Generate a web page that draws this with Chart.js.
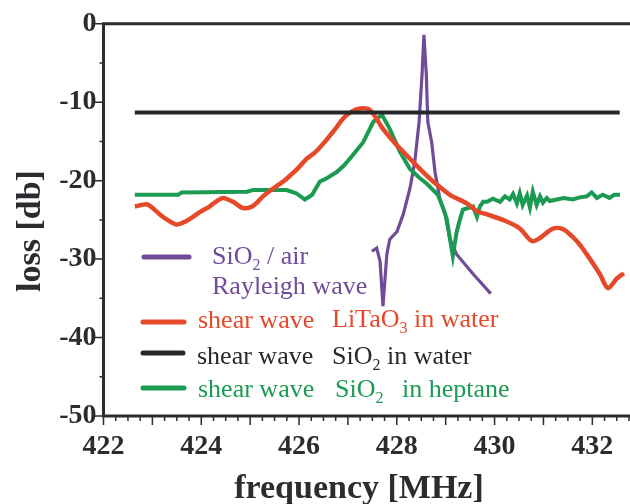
<!DOCTYPE html>
<html><head><meta charset="utf-8">
<script src="https://cdn.jsdelivr.net/npm/chart.js@4.4.0/dist/chart.umd.min.js"></script>
<style>html,body{margin:0;padding:0;background:#fff}#wrap{width:630px;height:504px;position:relative}</style>
</head><body><div id="wrap"><canvas id="c"></canvas></div>
<script>
// ---- data ----
const xTickLabels = [422, 424, 426, 428, 430, 432];
const yTickLabels = [0, -10, -20, -30, -40, -50];

const redFreq = [422.641,422.887,422.986,423.153,423.331,423.498,423.676,423.833,423.971,424.169,424.316,424.445,424.652,424.858,425.036,425.154,425.262,425.469,425.676,425.844,425.982,426.159,426.327,426.534,426.731,426.899,427.076,427.244,427.451,427.717,428.003,428.269,428.506,428.743,429.087,429.432,429.639,429.846,430.250,430.516,430.763,430.930,431.197,431.404,431.680,431.887,432.153,432.320,432.498,432.646];
const redLoss = [-23.3,-23.0,-23.4,-24.3,-25.1,-25.6,-25.2,-24.6,-24.0,-23.3,-22.6,-22.2,-22.7,-23.5,-23.3,-22.7,-22.0,-21.0,-20.1,-19.2,-18.4,-17.2,-16.4,-15.0,-13.5,-12.1,-11.2,-10.8,-11.0,-13.4,-15.5,-17.2,-18.7,-20.1,-21.8,-22.9,-23.9,-24.3,-25.2,-26.1,-27.7,-27.3,-26.1,-26.2,-27.7,-29.4,-31.9,-33.7,-32.5,-31.8];

const blackFreq = [422.64, 432.56];
const blackLoss = [-11.3, -11.3];

const greenFreq = [422.641,423.528,423.597,424.937,425.056,425.746,425.943,426.120,426.268,426.426,426.534,426.771,426.928,427.106,427.313,427.520,427.697,427.855,428.062,428.269,428.456,428.614,428.840,428.949,429.018,429.146,429.225,429.294,429.353,429.560,429.639,429.698,429.767,429.846,429.964,430.112,430.211,430.309,430.378,430.457,430.516,430.575,430.664,430.723,430.782,430.861,430.930,430.989,431.068,431.127,431.275,431.413,431.601,431.759,431.887,431.986,432.094,432.212,432.350,432.449,432.567];
const greenLoss = [-21.8,-21.8,-21.5,-21.4,-21.2,-21.2,-21.6,-22.4,-21.8,-20.1,-19.8,-18.9,-18.0,-16.7,-15.1,-12.5,-11.6,-13.4,-16.3,-18.5,-19.6,-20.4,-21.8,-23.5,-24.8,-29.6,-26.5,-24.9,-23.7,-23.3,-24.6,-23.3,-22.7,-22.7,-22.3,-22.7,-22.0,-22.4,-21.7,-22.9,-21.6,-23.1,-21.9,-23.4,-21.4,-23.1,-22.0,-22.8,-22.2,-22.6,-22.4,-22.2,-22.4,-22.1,-22.0,-21.5,-22.2,-21.8,-22.2,-21.8,-21.8];

const purpleFreq = [427.490,427.589,427.658,427.717,427.796,427.855,428.003,428.131,428.269,428.368,428.456,428.515,428.555,428.604,428.634,428.713,428.782,428.880,428.989,429.087,429.226,429.561,429.922];
const purpleLoss = [-29.0,-28.6,-30.3,-36.0,-29.4,-27.5,-26.5,-24.3,-21.0,-17.6,-12.5,-6.6,-1.4,-6.5,-12.5,-15.1,-18.9,-22.3,-24.3,-27.5,-29.4,-31.9,-34.4];

const COL = {purple:'#6f4b98', red:'#e6482a', green:'#1b9a52', black:'#25282b', axis:'#2a2d30'};

function pts(fx, ly){ return fx.map((f,i)=>({x:f, y:ly[i]})); }

const axesPlugin = {
  id:'axesPlugin',
  afterDatasetsDraw(chart){
    const ctx = chart.ctx, a = chart.chartArea;
    const xs = chart.scales.x, ys = chart.scales.y;
    ctx.save();
    ctx.strokeStyle = COL.axis; ctx.lineCap='butt';
    ctx.lineWidth = 3;
    ctx.beginPath();
    ctx.moveTo(a.left, a.top); ctx.lineTo(630, a.top);
    ctx.moveTo(a.left, a.top-1.5); ctx.lineTo(a.left, a.bottom+1.5);
    ctx.moveTo(a.left-1.5, a.bottom); ctx.lineTo(630, a.bottom);
    ctx.stroke();
    ctx.lineWidth = 1.5;
    ctx.beginPath();
    xs.ticks.forEach(t=>{
      const q = t.value*4;
      if (Math.abs(q-Math.round(q))>1e-6) return;
      const px = xs.getPixelForValue(t.value);
      const major = Math.abs(t.value-Math.round(t.value))<1e-6;
      ctx.moveTo(px, a.bottom); ctx.lineTo(px, a.bottom + (major?9:5));
    });
    ys.ticks.forEach(t=>{
      const py = ys.getPixelForValue(t.value);
      const major = t.value % 10 === 0;
      ctx.moveTo(a.left, py); ctx.lineTo(a.left - (major?9:4), py);
    });
    ctx.stroke();

    ctx.fillStyle = COL.axis;
    ctx.font = 'bold 34px "Liberation Serif"';
    ctx.textAlign='center'; ctx.textBaseline='alphabetic';
    ctx.fillText('frequency [MHz]', 359, 498);
    ctx.save();
    ctx.translate(40, 231); ctx.rotate(-Math.PI/2);
    ctx.fillText('loss [db]', 0, 0);
    ctx.restore();

    const legLine = (x1,x2,y,c)=>{ctx.strokeStyle=c; ctx.lineWidth=5; ctx.lineCap='round'; ctx.beginPath(); ctx.moveTo(x1,y); ctx.lineTo(x2,y); ctx.stroke();};
    const txt = (parts, x, y, c)=>{
      ctx.fillStyle=c; ctx.textAlign='left'; ctx.textBaseline='alphabetic';
      let cx = x;
      parts.forEach(p=>{
        if (p.sub){ ctx.font='16px "Liberation Serif"'; ctx.fillText(p.t, cx, y+6); cx += ctx.measureText(p.t).width; }
        else { ctx.font='26px "Liberation Serif"'; ctx.fillText(p.t, cx, y); cx += ctx.measureText(p.t).width; }
      });
    };
    legLine(144,189,257,COL.purple);
    txt([{t:'SiO'},{t:'2',sub:1},{t:' / air'}], 212, 264, COL.purple);
    txt([{t:'Rayleigh wave'}], 212, 294, COL.purple);
    legLine(143,184,322,COL.red);
    txt([{t:'shear wave'}], 198, 328, COL.red);
    txt([{t:'LiTaO'},{t:'3',sub:1},{t:' in water'}], 332, 327, COL.red);
    legLine(143,183,353,COL.black);
    txt([{t:'shear wave'}], 197, 364, COL.black);
    txt([{t:'SiO'},{t:'2',sub:1},{t:' in water'}], 332, 364, COL.black);
    legLine(143,184,388,COL.green);
    txt([{t:'shear wave'}], 198, 397, COL.green);
    txt([{t:'SiO'},{t:'2',sub:1}], 335, 397, COL.green);
    txt([{t:'in heptane'}], 402, 397, COL.green);
    ctx.restore();
  }
};

new Chart(document.getElementById('c'), {
  type:'scatter',
  data:{ datasets:[
    {data:pts(blackFreq,blackLoss), borderColor:COL.black, borderWidth:4, showLine:true, pointRadius:0},
    {data:pts(redFreq,redLoss), borderColor:COL.red, borderWidth:4.5, showLine:true, pointRadius:0, tension:0.3},
    {data:pts(greenFreq,greenLoss), borderColor:COL.green, borderWidth:4, showLine:true, pointRadius:0},
    {data:pts(purpleFreq,purpleLoss), borderColor:COL.purple, borderWidth:3.2, showLine:true, pointRadius:0},
  ]},
  options:{
    responsive:true, maintainAspectRatio:false, animation:false,
    layout:{padding:{left:0, top:21, right:1, bottom:0}},
    plugins:{legend:{display:false}, tooltip:{enabled:false}},
    scales:{
      x:{type:'linear', min:422, max:432.75,
        grid:{display:false, drawTicks:false}, border:{display:false},
        afterFit(s){ s.height = 88; s.paddingLeft = 0; s.paddingRight = 0; },
        ticks:{stepSize:0.25, autoSkip:false, maxRotation:0, padding:14, color:COL.axis,
          font:{family:'"Liberation Serif"', size:28, weight:'bold'},
          callback(v){ return xTickLabels.includes(v) ? String(v) : ''; }}
      },
      y:{type:'linear', min:-50, max:0,
        grid:{display:false, drawTicks:false}, border:{display:false},
        afterFit(s){ s.width = 103.5; },
        ticks:{stepSize:5, padding:7, color:COL.axis,
          font:{family:'"Liberation Serif"', size:28, weight:'bold'},
          callback(v){ return yTickLabels.includes(v) ? String(v) : ''; }}
      }
    }
  },
  plugins:[axesPlugin]
});
</script></body></html>
